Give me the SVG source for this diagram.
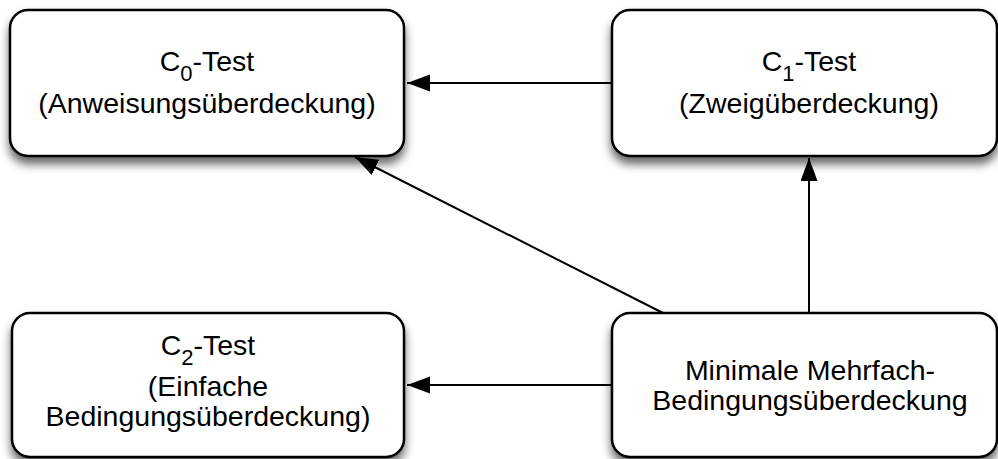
<svg xmlns="http://www.w3.org/2000/svg" width="998" height="459" viewBox="0 0 998 459">
  <defs>
    <filter id="shadow" x="-10%" y="-10%" width="120%" height="130%">
      <feDropShadow dx="0" dy="7" stdDeviation="5" flood-color="#000" flood-opacity="0.6"/>
    </filter>
    <marker id="arrow" markerUnits="userSpaceOnUse" markerWidth="24" markerHeight="18" refX="23" refY="8.5" orient="auto">
      <path d="M0,0 L23,8.5 L0,17 z" fill="#000"/>
    </marker>
  </defs>
  <style>
    .box { fill: #fff; stroke: #000; stroke-width: 2.5; filter: url(#shadow); }
    .lbl { font-family: "Liberation Sans", Arial, sans-serif; font-size: 28.5px; fill: #000; text-anchor: middle; }
    .sub { font-size: 22px; }
    .edge { stroke: #000; stroke-width: 2; fill: none; marker-end: url(#arrow); }
  </style>
  <rect width="998" height="459" fill="#fff"/>
  <g id="connectors">
    <line class="edge" x1="612" y1="83" x2="407" y2="83"/>
    <line class="edge" x1="809" y1="313" x2="809" y2="158"/>
    <line class="edge" x1="663" y1="313" x2="355" y2="157"/>
    <line class="edge" x1="612" y1="385" x2="407" y2="385"/>
  </g>
  <g id="c0">
    <rect class="box" x="10" y="10" width="394" height="146" rx="18"/>
    <text class="lbl" x="207" y="71">C<tspan class="sub" dy="10">0</tspan><tspan dy="-10">-Test</tspan></text>
    <text class="lbl" x="207" y="113">(Anweisungsüberdeckung)</text>
  </g>
  <g id="c1">
    <rect class="box" x="612" y="10" width="385" height="146" rx="18"/>
    <text class="lbl" x="809" y="71">C<tspan class="sub" dy="10">1</tspan><tspan dy="-10">-Test</tspan></text>
    <text class="lbl" x="809" y="113">(Zweigüberdeckung)</text>
  </g>
  <g id="c2">
    <rect class="box" x="12" y="313" width="392" height="144" rx="18"/>
    <text class="lbl" x="208" y="355">C<tspan class="sub" dy="10">2</tspan><tspan dy="-10">-Test</tspan></text>
    <text class="lbl" x="208" y="396">(Einfache</text>
    <text class="lbl" x="208" y="425.5">Bedingungsüberdeckung)</text>
  </g>
  <g id="minimal">
    <rect class="box" x="612" y="313" width="385" height="144" rx="18"/>
    <text class="lbl" x="810" y="380">Minimale Mehrfach-</text>
    <text class="lbl" x="810" y="409.5">Bedingungsüberdeckung</text>
  </g>
</svg>
